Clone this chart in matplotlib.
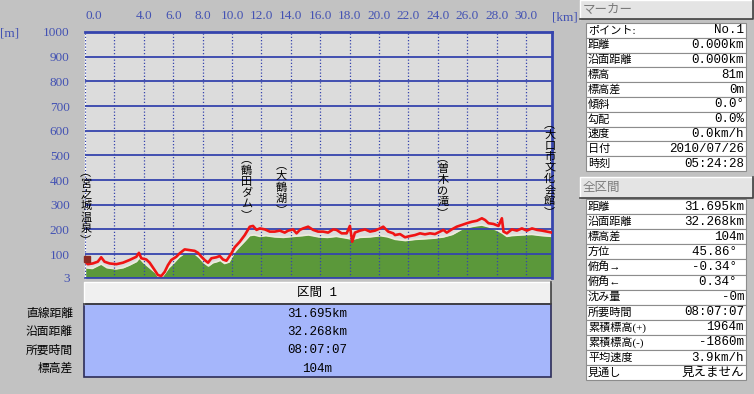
import numpy as np
import matplotlib
matplotlib.use('Agg')
import matplotlib.pyplot as plt
from matplotlib.patches import Rectangle

plt.rcParams['font.family'] = ['Liberation Serif', 'Noto Sans CJK JP', 'DejaVu Sans']
MONO = ['Liberation Mono', 'Noto Sans CJK JP', 'DejaVu Sans']

# route elevation (red line)
route_km = [0.0, 0.19, 0.53, 0.87, 1.10, 1.33, 1.67, 2.13, 2.58, 3.03, 3.49, 3.67, 3.83,
            4.17, 4.40, 4.74, 4.96, 5.19, 5.42, 5.64, 5.87, 6.21, 6.44, 6.78, 7.12, 7.46,
            7.69, 7.92, 8.14, 8.37, 8.60, 8.94, 9.17, 9.39, 9.62, 9.96, 10.19, 10.53, 10.87,
            11.21, 11.43, 11.67, 11.89, 12.23, 12.57, 12.91, 13.25, 13.59, 13.82, 14.16,
            14.39, 14.62, 14.84, 15.18, 15.52, 15.86, 16.20, 16.54, 16.89, 17.11, 17.46,
            17.80, 18.02, 18.18, 18.36, 18.71, 19.05, 19.39, 19.73, 20.07, 20.29, 20.63,
            20.97, 21.09, 21.43, 21.77, 22.11, 22.45, 22.79, 23.13, 23.47, 23.81, 24.15,
            24.38, 24.61, 24.95, 25.29, 25.64, 25.98, 26.32, 26.66, 27.00, 27.22, 27.45,
            27.79, 28.13, 28.36, 28.47, 28.70, 29.04, 29.38, 29.72, 30.06, 30.41, 30.75,
            31.09, 31.43, 31.77]
route_m = [70, 59, 62, 69, 87, 69, 62, 59, 65, 76, 89, 105, 83,
           78, 65, 35, 15, 11, 28, 55, 76, 89, 103, 119, 116, 113,
           105, 89, 76, 65, 83, 87, 92, 78, 73, 103, 128, 150, 177,
           211, 214, 198, 204, 200, 191, 191, 195, 187, 195, 200,
           184, 198, 204, 211, 198, 191, 191, 187, 200, 198, 184,
           184, 214, 150, 187, 195, 200, 191, 195, 204, 211, 191,
           184, 177, 181, 168, 173, 177, 184, 180, 184, 181, 191,
           198, 187, 200, 211, 218, 225, 231, 235, 245, 238, 225,
           222, 214, 245, 191, 184, 200, 195, 204, 195, 204, 198,
           195, 191, 187]

# terrain (green area)
terrain_km = [0.0, 0.5, 1.1, 1.5, 2.1, 2.6, 3.0, 3.5, 3.7, 4.0, 4.4, 4.8, 5.0, 5.2, 5.4,
              5.7, 6.0, 6.4, 6.8, 7.1, 7.5, 7.8, 8.1, 8.4, 8.7, 9.0, 9.2, 9.5, 9.8, 10.2,
              10.5, 10.9, 11.2, 11.5, 11.9, 12.3, 12.9, 13.5, 14.2, 14.8, 15.2, 15.9, 16.5,
              17.1, 17.8, 18.2, 18.7, 19.4, 20.1, 20.6, 21.1, 21.8, 22.5, 23.1, 23.8, 24.4,
              25.0, 25.6, 26.0, 26.6, 27.0, 27.5, 28.1, 28.4, 28.7, 29.0, 29.7, 30.4, 31.1,
              31.77]
terrain_m = [45, 42, 60, 45, 40, 45, 55, 70, 85, 65, 45, 25, 8, 5, 20,
             45, 62, 88, 105, 104, 100, 85, 65, 52, 65, 70, 75, 62, 68, 110,
             130, 155, 175, 178, 172, 175, 170, 168, 172, 175, 178, 170, 168,
             172, 165, 160, 168, 170, 175, 170, 160, 155, 160, 162, 165, 170,
             180, 200, 208, 215, 218, 210, 195, 185, 172, 175, 178, 180, 175,
             172]

place_names = ['宮之城温泉', '鶴田ダム', '大鶴湖', '曽木の滝', '大口市文化会館']
place_km = [0.05, 10.98, 13.37, 24.34, 31.62]
place_m = [137, 238, 258, 246, 250]

marker_km = 0.15
marker_m = 81

x_ticks = [0, 2, 4, 6, 8, 10, 12, 14, 16, 18, 20, 22, 24, 26, 28, 30]
x_labels = ['0.0', '', '4.0', '6.0', '8.0', '10.0', '12.0', '14.0', '16.0', '18.0',
            '20.0', '22.0', '24.0', '26.0', '28.0', '30.0']
y_ticks = [3, 100, 200, 300, 400, 500, 600, 700, 800, 900, 1000]

section_title = '区間 1'
section_labels = ['直線距離', '沿面距離', '所要時間', '標高差']
section_values = ['31.695km', '32.268km', '08:07:07', '104m']

marker_labels = ['ポイント:', '距離', '沿面距離', '標高', '標高差', '傾斜', '勾配', '速度', '日付', '時刻']
marker_values = ['No.1', '0.000km', '0.000km', '81m', '0m', '0.0°', '0.0%', '0.0km/h',
                 '2010/07/26', '05:24:28']
total_labels = ['距離', '沿面距離', '標高差', '方位', '俯角→', '俯角←', '沈み量', '所要時間',
                '累積標高(+)', '累積標高(-)', '平均速度', '見通し']
total_values = ['31.695km', '32.268km', '104m', '45.86° ', '-0.34° ', '0.34° ', '-0m',
                '08:07:07', '1964m', '-1860m', '3.9km/h', '見えません']

W, H = 754, 394
BLUE = '#3544ad'
TXTBLUE = '#4352b3'


def box(x0, y0, x1, y1):
    return [x0 / W, 1 - y1 / H, (x1 - x0) / W, (y1 - y0) / H]


fig = plt.figure(figsize=(W / 100, H / 100), dpi=100)
fig.patch.set_facecolor('#c2c2c2')

# main profile
ax = fig.add_axes(box(85, 32, 552, 278))
ax.set_facecolor('#dcdcdc')
ax.fill_between(terrain_km, terrain_m, 3, color='#5b983a', lw=0, zorder=1)
ax.plot(terrain_km, terrain_m, color='#ecebdc', lw=1.3, zorder=1.5)
ax.plot(route_km, route_m, color='#f01414', lw=1.9, zorder=3)
ax.plot(marker_km, marker_m, marker='s', ms=5, color='#8c2a22', zorder=4, clip_on=False)
ax.set_xlim(0, 31.77)
ax.set_ylim(3, 1000)
ax.xaxis.tick_top()
ax.set_xticks(x_ticks)
ax.set_xticklabels(x_labels)
ax.get_xticklabels()[0].set_ha('left')
ax.set_yticks(y_ticks)
ax.set_yticklabels([str(v) for v in y_ticks])
ax.tick_params(length=0, colors=TXTBLUE, labelsize=9.5)
ax.tick_params(axis='y', pad=11)
ax.tick_params(axis='x', pad=7)
ax.set_axisbelow(False)
ax.grid(axis='y', color=BLUE, lw=1.3)
ax.grid(axis='x', color=BLUE, lw=0.9, ls=(0, (1, 1.6)))
for s in ['top', 'right']:
    ax.spines[s].set_color(BLUE)
    ax.spines[s].set_linewidth(2)
ax.spines['bottom'].set_color(BLUE)
ax.spines['bottom'].set_linewidth(1.2)
ax.spines['left'].set_color('white')
ax.spines['left'].set_linewidth(1)

for name, km, m in zip(place_names, place_km, place_m):
    ax.text(km, m, '\n'.join('︵' + name + '︶'), ha='center', va='bottom', fontsize=8,
            linespacing=1.12, color='black', zorder=5, clip_on=False,
            family=['Noto Sans CJK JP', 'DejaVu Sans'])

fig.text(10 / W, 1 - 33 / H, '[m]', ha='center', va='center', color=TXTBLUE, fontsize=9.5)
fig.text(565 / W, 1 - 17 / H, '[km]', ha='center', va='center', color=TXTBLUE, fontsize=9.5)

# overlay for panels, pixel coordinates
ov = fig.add_axes([0, 0, 1, 1])
ov.set_xlim(0, W)
ov.set_ylim(H, 0)
ov.axis('off')
ov.patch.set_alpha(0)


def raised(x0, y0, x1, y1, fc):
    ov.add_patch(Rectangle((x0, y0), x1 - x0, y1 - y0, fc=fc, ec='none'))
    ov.plot([x0, x0, x1], [y1, y0, y0], color='white', lw=1)
    ov.plot([x0, x1, x1], [y1, y1, y0], color='#404040', lw=1.2)


# section table under the plot
raised(84, 282, 551, 304, '#f0f0f0')
ov.text(317, 293, section_title, ha='center', va='center', fontsize=9, family=MONO)
ov.add_patch(Rectangle((84, 304), 467, 73, fc='#a5b6fb', ec='#2c2c58', lw=1.2))
for i, (lab, val) in enumerate(zip(section_labels, section_values)):
    y = 314 + i * 18.2
    ov.text(73, y, lab, ha='right', va='center', fontsize=8.5)
    ov.text(317, y, val, ha='center', va='center', fontsize=9, family=MONO)

# right side panel
raised(580, 0, 753, 19, '#e4e4e4')
ov.text(583, 9.5, 'マーカー', ha='left', va='center', fontsize=9, color='#7a7a7a')
raised(580, 177, 753, 198, '#e4e4e4')
ov.text(583, 187.5, '全区間', ha='left', va='center', fontsize=9, color='#7a7a7a')


def table(top, rh, labels, values):
    for i, (lab, val) in enumerate(zip(labels, values)):
        y0 = top + i * rh
        ov.add_patch(Rectangle((586, y0), 160, rh, fc='white', ec='#8c8c8c', lw=0.8))
        ov.text(588, y0 + rh / 2, lab, ha='left', va='center', fontsize=8)
        ov.text(744, y0 + rh / 2, val, ha='right', va='center', fontsize=9, family=MONO)


table(23, 14.8, marker_labels, marker_values)
table(199, 15.1, total_labels, total_values)

fig.savefig('out.png', dpi=100, facecolor=fig.get_facecolor())
